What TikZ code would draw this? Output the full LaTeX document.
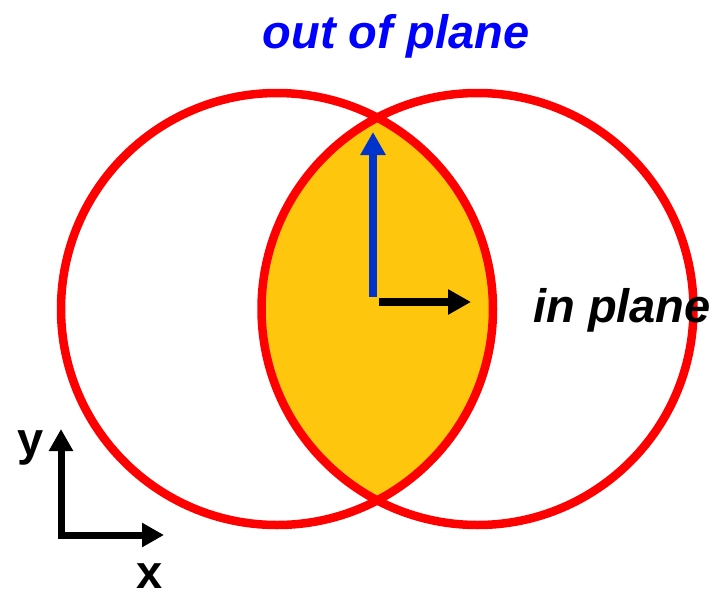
\documentclass[tikz,border=0pt]{standalone}
\usepackage{fontspec}
\setmainfont{Liberation Sans}
\usetikzlibrary{arrows.meta}
\definecolor{lensyellow}{HTML}{FFC60E}
\definecolor{arrowblue}{HTML}{0033CC}
\definecolor{textblue}{HTML}{0000FF}
\tikzset{
  ring/.style={circle, draw=red, line width=8.5pt, minimum size=432pt, inner sep=0pt},
  fatarrow/.style={line width=8pt, -{Triangle[length=23pt,width=24pt]}},
  axisarrow/.style={line width=7pt, -{Triangle[length=22pt,width=23pt]}},
  biglabel/.style={font=\fontsize{47}{56}\selectfont\bfseries\itshape, anchor=base, inner sep=0pt},
  axlabel/.style={font=\fontsize{47}{56}\selectfont\bfseries, anchor=base, inner sep=0pt}
}
\begin{document}
\begin{tikzpicture}[x=1pt,y=-1pt]
\useasboundingbox (0,0) rectangle (721,598);
\coordinate (cl) at (277,309);
\coordinate (cr) at (477.5,309);
% lens fill
\begin{scope}
  \clip (cl) circle (216);
  \fill[lensyellow] (cr) circle (216);
\end{scope}
\node[ring] (L) at (cl) {};
\node[ring] (R) at (cr) {};
% vectors
\coordinate (o1) at (373,297);
\coordinate (t1) at (373,132);
\coordinate (o2) at (379,302);
\coordinate (t2) at (471,302);
\draw[fatarrow, arrowblue] (o1) -- (t1);
\draw[fatarrow, black] (o2) -- (t2);
% labels
\node[biglabel, textblue] (oop) at (396,48) {out of plane};
\node[biglabel] (inp) at (622,322) {in plane};
% axes
\coordinate (ax0) at (61,535);
\coordinate (axy) at (61,429);
\coordinate (axx) at (164,535);
\draw[axisarrow, line cap=rect] (ax0) -- (axy);
\draw[axisarrow] (ax0) -- (axx);
\node[axlabel] (ly) at (31,455) {y};
\node[axlabel] (lx) at (150,588) {x};
\end{tikzpicture}
\end{document}
